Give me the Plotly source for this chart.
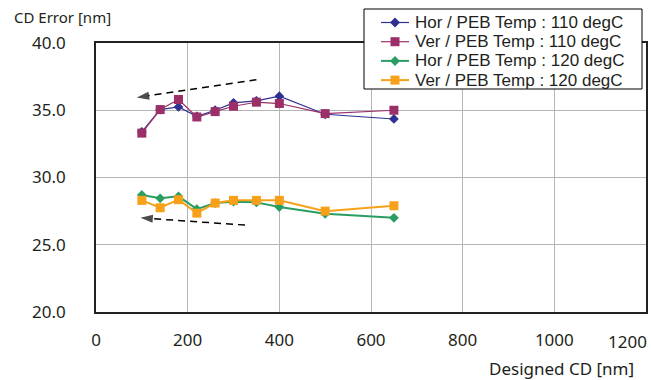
import plotly.graph_objects as go

# Designed CD values (nm)
designed_cd = [100, 140, 180, 220, 260, 300, 350, 400, 500, 650]

# CD error (nm) per orientation / PEB temperature
hor_110 = [33.4, 35.05, 35.25, 34.55, 35.0, 35.55, 35.7, 36.05, 34.7, 34.35]
ver_110 = [33.3, 35.05, 35.8, 34.5, 34.9, 35.3, 35.6, 35.5, 34.75, 35.0]
hor_120 = [28.7, 28.45, 28.6, 27.65, 28.1, 28.2, 28.15, 27.8, 27.3, 27.0]
ver_120 = [28.3, 27.75, 28.35, 27.35, 28.1, 28.3, 28.3, 28.3, 27.5, 27.9]

series_names = [
    "Hor / PEB Temp : 110 degC",
    "Ver / PEB Temp : 110 degC",
    "Hor / PEB Temp : 120 degC",
    "Ver / PEB Temp : 120 degC",
]

x_ticks = [0, 200, 400, 600, 800, 1000, 1200]
y_ticks = [20, 25, 30, 35, 40]

# Trend arrows: (tail x, tip x), (tail y, tip y)
arrow_110 = ([350, 89], [37.27, 35.95])
arrow_120 = ([325, 97], [26.46, 27.0])

FONT = "Noto Sans"
LEGEND_FONT = "Liberation Sans"
TEXT = "#231f20"

W, H = 651, 380
M_L, M_R, M_T, M_B = 96, 5, 43, 68
PW, PH = W - M_L - M_R, H - M_T - M_B


def px_to_paper(px, py):
    """Convert figure pixel position to paper coordinates."""
    return (px - M_L) / PW, (H - M_B - py) / PH


fig = go.Figure()

styles = [
    (hor_110, "#2e3192", "diamond", 1.2, 7.5),
    (ver_110, "#9b2f68", "square", 1.2, 9),
    (hor_120, "#2a9d63", "diamond", 2.0, 7.5),
    (ver_120, "#f7a11a", "square", 2.0, 9),
]
for name, (vals, color, sym, lw, ms) in zip(series_names, styles):
    fig.add_trace(go.Scatter(
        x=designed_cd, y=vals, name=name, mode="lines+markers",
        line=dict(color=color, width=lw),
        marker=dict(symbol=sym, size=ms, color=color),
        showlegend=False,
    ))

for ax_, ay_ in (arrow_110, arrow_120):
    fig.add_trace(go.Scatter(
        x=ax_, y=ay_, mode="lines+markers", showlegend=False, hoverinfo="skip",
        line=dict(color="black", width=1.5, dash="7px,5px"),
        marker=dict(symbol=["circle", "arrow"], size=[0, 13], color="black",
                    angleref="previous", line=dict(width=0)),
    ))

# Boxed legend in the upper right
ROW0, ROW_STEP = 22.5, 19.2
shapes = []
annotations = []
bx0, by0 = px_to_paper(364, 9)
bx1, by1 = px_to_paper(642, 89)
shapes.append(dict(type="rect", xref="paper", yref="paper",
                   x0=bx0, x1=bx1, y0=by1, y1=by0,
                   fillcolor="white", line=dict(color="black", width=1),
                   layer="above"))
for i, (name, (vals, color, sym, lw, ms)) in enumerate(zip(series_names, styles)):
    cy = ROW0 + i * ROW_STEP
    lx0, ly = px_to_paper(381, cy)
    lx1, _ = px_to_paper(409, cy)
    shapes.append(dict(type="line", xref="paper", yref="paper",
                       x0=lx0, x1=lx1, y0=ly, y1=ly,
                       line=dict(color=color, width=lw), layer="above"))
    mx, _ = px_to_paper(395, cy)
    if sym == "diamond":
        r = 5
        path = f"M0,{r} L{r},0 L0,{-r} L{-r},0 Z"
    else:
        r = 4.5
        path = f"M{-r},{-r} L{r},{-r} L{r},{r} L{-r},{r} Z"
    shapes.append(dict(type="path", xref="paper", yref="paper",
                       xsizemode="pixel", ysizemode="pixel",
                       xanchor=mx, yanchor=ly, path=path,
                       fillcolor=color, line=dict(width=0), layer="above"))
    tx, _ = px_to_paper(413, cy)
    annotations.append(dict(text=name, xref="paper", yref="paper",
                            x=tx, y=ly, xanchor="left", yanchor="middle",
                            showarrow=False,
                            font=dict(family=LEGEND_FONT, size=17, color=TEXT)))

tx, ty = px_to_paper(12, 17)
annotations.append(dict(text="CD Error [nm]", xref="paper", yref="paper",
                        x=tx, y=ty, xanchor="left", yanchor="middle",
                        showarrow=False, font=dict(size=15, color=TEXT)))
tx, ty = px_to_paper(636, 368)
annotations.append(dict(text="Designed CD [nm]", xref="paper", yref="paper",
                        x=tx, y=ty, xanchor="right", yanchor="middle",
                        showarrow=False, font=dict(size=17, color=TEXT)))

# last x tick label sits flush with the right edge of the figure
x_ticktext = [str(v) for v in x_ticks[:-1]] + [""]
tx, ty = px_to_paper(649, 341)
annotations.append(dict(text=str(x_ticks[-1]), xref="paper", yref="paper",
                        x=tx, y=ty, xanchor="right", yanchor="middle",
                        showarrow=False, font=dict(size=17, color=TEXT)))

fig.update_layout(
    width=W, height=H,
    margin=dict(l=M_L, r=M_R, t=M_T, b=M_B, autoexpand=False),
    paper_bgcolor="white", plot_bgcolor="white",
    font=dict(family=FONT, size=17, color=TEXT),
    showlegend=False,
    xaxis=dict(
        range=[0, 1200], tickvals=x_ticks, ticktext=x_ticktext, showgrid=True,
        gridcolor="#b5b5b5", gridwidth=1, zeroline=False,
        showline=True, linecolor="#222222", linewidth=1.5, mirror=True,
        ticks="", ticklabelstandoff=12, automargin=False,
    ),
    yaxis=dict(
        range=[20, 40], tickvals=y_ticks, tickformat=".1f", showgrid=True,
        gridcolor="#b5b5b5", gridwidth=1, zeroline=False,
        showline=True, linecolor="#222222", linewidth=1.5, mirror=True,
        ticks="", ticklabelstandoff=25, automargin=False,
    ),
    shapes=shapes,
    annotations=annotations,
)

fig.write_html("out.html")
